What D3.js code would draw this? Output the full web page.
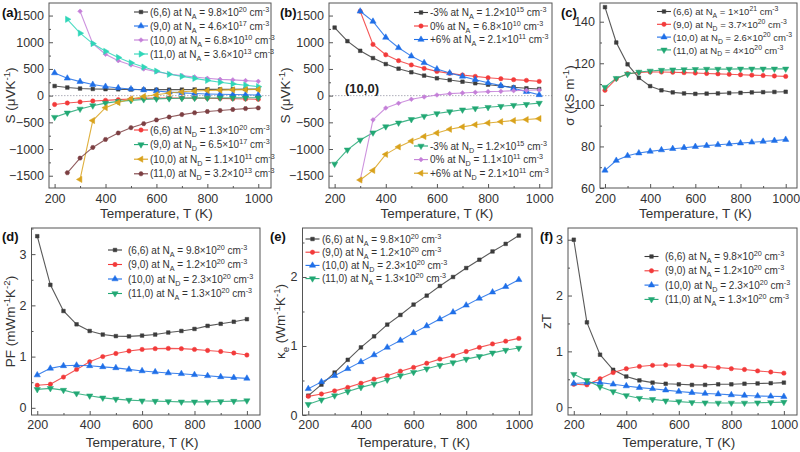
<!DOCTYPE html>
<html>
<head>
<meta charset="utf-8">
<script src="https://cdn.jsdelivr.net/npm/d3@7"></script>
<style>
  body { margin: 0; background: #fff; }
  svg { font-family: "Liberation Sans", Arial, sans-serif; font-weight: normal; }
</style>
</head>
<body>
<svg id="chart" width="800" height="452"></svg>
<script>
//  Data  //
var temps = [200,250,300,350,400,450,500,550,600,650,700,750,800,850,900,950,1000];
var xTicks = [200,400,600,800,1000];
var xMinor = [300,500,700,900];

// (a) Seebeck, best p and n doping per tube
var aS66p  = [180,152,133,125,121,118,115,113,112,112,113,115,117,118,120,121,122];
var aS90p  = [425,325,262,207,170,144,124,106,88,66,52,40,32,26,20,16,12];
var aS100p = [null,null,1580,975,775,655,575,500,450,405,375,350,325,305,295,282,268];
var aS110p = [null,1430,1170,975,830,715,615,535,460,400,360,323,286,250,220,195,168];
var aS66n  = [-165,-138,-118,-100,-88,-75,-62,-52,-45,-43,-43,-45,-48,-52,-58,-63,-70];
var aS90n  = [-404,-323,-250,-188,-140,-108,-88,-72,-60,-54,-50,-47,-45,-43,-42,-41,-40];
var aS100n = [null,null,-1570,-466,-225,-130,-62,-15,18,48,72,86,97,104,108,112,115];
var aS110n = [null,-1445,-1170,-970,-820,-700,-600,-525,-455,-400,-355,-322,-297,-278,-260,-243,-230];
var aLabelsP = ["(6,6) at N_{A} = 9.8×10^{20} cm^{-3}", "(9,0) at N_{A} = 4.6×10^{17} cm^{-3}",
                "(10,0) at N_{A} = 6.8×10^{10} cm^{-3}", "(11,0) at N_{A} = 3.6×10^{13} cm^{-3}"];
var aLabelsN = ["(6,6) at N_{D} = 1.3×10^{20} cm^{-3}", "(9,0) at N_{D} = 6.5×10^{17} cm^{-3}",
                "(10,0) at N_{D} = 1.1×10^{11} cm^{-3}", "(11,0) at N_{D} = 3.2×10^{13} cm^{-3}"];

// (b) (10,0) under strain
var bSm3p = [1275,1020,840,703,591,505,438,375,325,292,261,232,205,180,157,138,124];
var bS0p  = [null,null,1580,960,765,655,575,510,454,417,386,361,336,317,299,286,267];
var bSp6p = [null,null,1580,1390,1090,896,740,615,498,423,361,299,240,187,137,75,15];
var bSm3n = [-1280,-1015,-830,-695,-580,-510,-445,-385,-335,-300,-265,-240,-218,-199,-180,-162,-140];
var bS0n  = [null,null,-1580,-454,-232,-143,-68,-25,12,37,50,62,75,81,93,100,106];
var bSp6n = [null,null,-1580,-1400,-1100,-960,-850,-765,-700,-630,-585,-545,-512,-488,-467,-448,-430];
var bLabelsP = ["-3% at N_{A} = 1.2×10^{15} cm^{-3}", "0% at N_{A} = 6.8×10^{10} cm^{-3}", "+6% at N_{A} = 2.1×10^{11} cm^{-3}"];
var bLabelsN = ["-3% at N_{D} = 1.2×10^{15} cm^{-3}", "0% at N_{D} = 1.1×10^{11} cm^{-3}", "+6% at N_{D} = 2.1×10^{11} cm^{-3}"];

// (c) conductivity
var cSig66  = [147,130,119.5,113,109,107,106,105.5,105.3,105.4,105.5,105.7,105.8,106,106.1,106.2,106.3];
var cSig90  = [107,112.5,115,115.6,115.8,115.8,115.7,115.5,115.3,115.1,114.9,114.7,114.5,114.3,114.1,113.9,113.7];
var cSig100 = [68.5,73.2,75.5,76.8,77.6,78.3,78.9,79.4,79.9,80.4,80.8,81.2,81.6,82,82.4,82.8,83.3];
var cSig110 = [108.5,112.8,114.8,115.8,116.3,116.7,116.9,117,117.1,117.2,117.2,117.2,117.3,117.3,117.3,117.3,117.3];
var cLabels = ["(6,6) at N_{A} = 1×10^{21} cm^{-3}", "(9,0) at N_{D} = 3.7×10^{20} cm^{-3}",
               "(10,0) at N_{D} = 2.6×10^{20} cm^{-3}", "(11,0) at N_{D} = 4×10^{20} cm^{-3}"];

// (d) power factor
var dPF66  = [3.35,2.4,1.89,1.63,1.5,1.43,1.4,1.395,1.41,1.43,1.47,1.5,1.54,1.6,1.64,1.68,1.73];
var dPF90  = [0.44,0.46,0.6,0.75,0.9,1.0,1.06,1.11,1.14,1.155,1.16,1.155,1.14,1.12,1.1,1.07,1.03];
var dPF100 = [0.64,0.77,0.82,0.83,0.82,0.8,0.78,0.75,0.72,0.7,0.68,0.665,0.645,0.625,0.605,0.59,0.575];
var dPF110 = [0.36,0.38,0.345,0.28,0.235,0.195,0.17,0.15,0.137,0.13,0.124,0.117,0.117,0.117,0.124,0.13,0.14];

// (e) electronic thermal conductivity
var eK66  = [0.28,0.44,0.615,0.8,0.98,1.14,1.31,1.45,1.6,1.73,1.87,2.0,2.13,2.25,2.37,2.48,2.6];
var eK90  = [0.27,0.305,0.35,0.4,0.46,0.52,0.57,0.635,0.69,0.75,0.81,0.86,0.92,0.98,1.03,1.07,1.11];
var eK100 = [0.38,0.48,0.57,0.67,0.77,0.87,0.98,1.08,1.19,1.29,1.39,1.49,1.59,1.69,1.78,1.86,1.96];
var eK110 = [0.155,0.22,0.28,0.34,0.4,0.45,0.51,0.57,0.62,0.67,0.72,0.76,0.81,0.85,0.9,0.94,0.97];

// (f) zT
var fZT66  = [3.0,1.52,0.94,0.67,0.55,0.48,0.44,0.42,0.41,0.4,0.4,0.41,0.41,0.42,0.425,0.43,0.44];
var fZT90  = [0.41,0.4,0.51,0.62,0.69,0.73,0.75,0.755,0.755,0.74,0.73,0.71,0.69,0.675,0.65,0.63,0.61];
var fZT100 = [0.425,0.44,0.44,0.41,0.38,0.35,0.33,0.305,0.28,0.26,0.245,0.235,0.22,0.21,0.2,0.195,0.19];
var fZT110 = [0.59,0.48,0.365,0.28,0.21,0.16,0.14,0.115,0.1,0.085,0.08,0.075,0.075,0.075,0.08,0.085,0.09];

var defLabels = ["(6,6) at N_{A} = 9.8×10^{20} cm^{-3}", "(9,0) at N_{A} = 1.2×10^{20} cm^{-3}",
                 "(10,0) at N_{D} = 2.3×10^{20} cm^{-3}", "(11,0) at N_{A} = 1.3×10^{20} cm^{-3}"];

//  Styles  //
var col = { k: "#3c3c3c", r: "#f23a3a", b: "#1f6fe8", g: "#22a874", v: "#c47fd8", y: "#d9a21c", c: "#2fd6b8", w: "#7c3f42" };
var txtCol = "#333";

var symHex = {
    draw: function(ctx, size){
        var r = Math.sqrt(size / 2.598);
        for (var i = 0; i < 6; i++){
            var a = Math.PI / 3 * i;
            if (i == 0) ctx.moveTo(r * Math.cos(a), r * Math.sin(a));
            else ctx.lineTo(r * Math.cos(a), r * Math.sin(a));
        }
        ctx.closePath();
    }
};
var shp = {
    sq:  { type: d3.symbolSquare,   size: 13, rot: 0 },
    ci:  { type: d3.symbolCircle,   size: 15, rot: 0 },
    up:  { type: d3.symbolTriangle, size: 17, rot: 0 },
    dn:  { type: d3.symbolTriangle, size: 17, rot: 180 },
    di:  { type: d3.symbolSquare,   size: 11, rot: 45 },
    lt:  { type: d3.symbolTriangle, size: 17, rot: -90 },
    rt:  { type: d3.symbolTriangle, size: 17, rot: 90 },
    hx:  { type: symHex,            size: 14, rot: 0 }
};

var svg = d3.select("#chart");
var xDomain = [178, 1050];
var frameCol = "#555";

//  sub/superscript text: _{..} and ^{..}  //
function richText(sel, str, fs){
    var parts = str.split(/([_^]\{[^}]*\})/);
    var shift = 0;
    parts.forEach(function(s){
        if (!s) return;
        var target = 0, size = fs, txt = s;
        if (s[0] == "_" && s[1] == "{"){ target = fs * 0.3; size = fs * 0.72; txt = s.slice(2, -1); }
        else if (s[0] == "^" && s[1] == "{"){ target = -fs * 0.4; size = fs * 0.72; txt = s.slice(2, -1); }
        sel.append("tspan").attr("dy", target - shift).attr("font-size", size).text(txt);
        shift = target;
    });
}

function marker(g, s, color, cx, cy){
    g.append("path")
        .attr("d", d3.symbol().type(s.type).size(s.size)())
        .attr("transform", "translate(" + cx + "," + cy + ") rotate(" + s.rot + ")")
        .attr("fill", color).attr("stroke", color).attr("stroke-width", 0.5);
}

//  Panel  //
function drawPanel(p){
    var x = d3.scaleLinear().domain(xDomain).range([p.left, p.right]);
    var y = d3.scaleLinear().domain(p.yDomain).range([p.bottom, p.top]);
    var g = svg.append("g");

    if (p.zeroLine){
        g.append("line").attr("x1", p.left).attr("x2", p.right).attr("y1", y(0)).attr("y2", y(0))
            .attr("stroke", "#9a9aa8").attr("stroke-width", 0.8).attr("stroke-dasharray", "1.5,1.5");
    }

    // axes
    var axX = g.append("g").attr("transform", "translate(0," + p.bottom + ")")
        .call(d3.axisBottom(x).tickValues(xTicks).tickSizeInner(-4).tickSizeOuter(0).tickPadding(p.xPad).tickFormat(d3.format("d")));
    var axXm = g.append("g").attr("transform", "translate(0," + p.bottom + ")")
        .call(d3.axisBottom(x).tickValues(xMinor).tickSize(-2).tickFormat(""));
    var axY = g.append("g").attr("transform", "translate(" + p.left + ",0)")
        .call(d3.axisLeft(y).tickValues(p.yTicks).tickSizeInner(-4).tickSizeOuter(0).tickPadding(5).tickFormat(d3.format("d")));
    var axYm = g.append("g").attr("transform", "translate(" + p.left + ",0)")
        .call(d3.axisLeft(y).tickValues(p.yMinor).tickSize(-2).tickFormat(""));
    [axX, axXm, axY, axYm].forEach(function(a){
        a.select(".domain").remove();
        a.selectAll("line").attr("stroke", frameCol);
        a.selectAll("text").attr("font-size", 12.5).attr("fill", txtCol).attr("font-family", null);
    });

    g.append("rect").attr("x", p.left).attr("y", p.top)
        .attr("width", p.right - p.left).attr("height", p.bottom - p.top)
        .attr("fill", "none").attr("stroke", frameCol).attr("stroke-width", 1);

    // titles
    g.append("text").attr("x", (x(200) + x(1000)) / 2).attr("y", p.xTitleY)
        .attr("text-anchor", "middle").attr("font-size", 13.5).attr("fill", txtCol)
        .text("Temperature, T (K)");
    var yt = g.append("text").attr("text-anchor", "middle").attr("font-size", 13.5).attr("fill", txtCol)
        .attr("transform", "translate(" + p.yTitleX + "," + ((p.top + p.bottom) / 2) + ") rotate(-90)");
    richText(yt, p.yTitle, 13.5);
    g.append("text").attr("x", p.letterX).attr("y", p.letterY)
        .attr("font-size", 13).attr("font-weight", "bold").attr("fill", "#111").text(p.letter);

    // series
    var line = d3.line().defined(function(d){ return d != null; })
        .x(function(d, i){ return x(temps[i]); }).y(function(d){ return y(d); });
    p.series.forEach(function(s){
        g.append("path").datum(s.vals).attr("d", line)
            .attr("fill", "none").attr("stroke", s.color).attr("stroke-width", 1.1).attr("stroke-opacity", 0.85);
    });
    p.series.forEach(function(s){
        s.vals.forEach(function(v, i){
            if (v == null) return;
            marker(g, s.shape, s.color, x(temps[i]), y(v));
        });
    });

    // legends
    p.legends.forEach(function(lg){
        lg.items.forEach(function(it, k){
            var cy = lg.y0 + k * lg.dy;
            g.append("line").attr("x1", lg.x - 7).attr("x2", lg.x + 7).attr("y1", cy).attr("y2", cy)
                .attr("stroke", it.color).attr("stroke-width", 1.1);
            marker(g, it.shape, it.color, lg.x, cy);
            var t = g.append("text").attr("x", lg.tx).attr("y", cy + 3.6)
                .attr("font-size", lg.fs).attr("fill", txtCol);
            richText(t, it.label, lg.fs);
        });
    });
}

function S(vals, color, shape, label){ return { vals: vals, color: color, shape: shp[shape], label: label }; }

//  Panel (a)  //
var aP = [S(aS66p, col.k, "sq", aLabelsP[0]), S(aS90p, col.b, "up", aLabelsP[1]), S(aS100p, col.v, "di", aLabelsP[2]), S(aS110p, col.c, "rt", aLabelsP[3])];
var aN = [S(aS66n, col.r, "ci", aLabelsN[0]), S(aS90n, col.g, "dn", aLabelsN[1]), S(aS100n, col.y, "lt", aLabelsN[2]), S(aS110n, col.w, "hx", aLabelsN[3])];
drawPanel({
    left: 49, right: 271, top: 3, bottom: 188, yDomain: [-1730, 1735],
    yTicks: [-1500,-1000,-500,0,500,1000,1500], yMinor: [-1250,-750,-250,250,750,1250],
    xPad: 6, xTitleY: 218, yTitleX: 15, yTitle: "S (μVK^{-1})", letter: "(a)", letterX: 2, letterY: 17,
    zeroLine: true, series: aP.concat(aN),
    legends: [{ x: 141, tx: 150, y0: 12, dy: 14, fs: 10, items: aP }, { x: 141, tx: 150, y0: 130, dy: 14.6, fs: 10, items: aN }]
});

//  Panel (b)  //
var bP = [S(bSm3p, col.k, "sq", bLabelsP[0]), S(bS0p, col.r, "ci", bLabelsP[1]), S(bSp6p, col.b, "up", bLabelsP[2])];
var bN = [S(bSm3n, col.g, "dn", bLabelsN[0]), S(bS0n, col.v, "di", bLabelsN[1]), S(bSp6n, col.y, "lt", bLabelsN[2])];
drawPanel({
    left: 329, right: 552, top: 3, bottom: 188, yDomain: [-1730, 1735],
    yTicks: [-1500,-1000,-500,0,500,1000,1500], yMinor: [-1250,-750,-250,250,750,1250],
    xPad: 6, xTitleY: 218, yTitleX: 290, yTitle: "S (μVK^{-1})", letter: "(b)", letterX: 280, letterY: 17,
    zeroLine: true, series: bP.concat(bN),
    legends: [{ x: 421, tx: 430, y0: 12.5, dy: 13.5, fs: 10, items: bP }, { x: 421, tx: 430, y0: 146, dy: 13.6, fs: 10, items: bN }]
});
svg.append("text").attr("x", 345).attr("y", 93).attr("font-size", 13).attr("font-weight", "bold")
    .attr("fill", "#222").text("(10,0)");

//  Panel (c)  //
var cS = [S(cSig66, col.k, "sq", cLabels[0]), S(cSig90, col.r, "ci", cLabels[1]), S(cSig100, col.b, "up", cLabels[2]), S(cSig110, col.g, "dn", cLabels[3])];
drawPanel({
    left: 600, right: 797, top: 3, bottom: 188, yDomain: [60, 149],
    yTicks: [60,80,100,120,140], yMinor: [70,90,110,130],
    xPad: 6, xTitleY: 218, yTitleX: 574, yTitle: "σ (kS m^{-1})", letter: "(c)", letterX: 561, letterY: 17,
    zeroLine: false, series: cS,
    legends: [{ x: 664, tx: 673, y0: 11.5, dy: 12.8, fs: 9.5, items: cS }]
});

//  Panel (d)  //
var dS = [S(dPF66, col.k, "sq", defLabels[0]), S(dPF90, col.r, "ci", defLabels[1]), S(dPF100, col.b, "up", defLabels[2]), S(dPF110, col.g, "dn", defLabels[3])];
drawPanel({
    left: 31.5, right: 260, top: 228, bottom: 415, yDomain: [-0.14, 3.51],
    yTicks: [0,1,2,3], yMinor: [0.5,1.5,2.5,3.5],
    xPad: 5, xTitleY: 447, yTitleX: 15, yTitle: "PF (mWm^{-1}K^{-2})", letter: "(d)", letterX: 2, letterY: 241,
    zeroLine: false, series: dS,
    legends: [{ x: 115, tx: 128, y0: 250, dy: 14.5, fs: 10, items: dS }]
});

//  Panel (e)  //
var eS = [S(eK66, col.k, "sq", defLabels[0]), S(eK90, col.r, "ci", defLabels[1]), S(eK100, col.b, "up", defLabels[2]), S(eK110, col.g, "dn", defLabels[3])];
drawPanel({
    left: 302.5, right: 532, top: 228, bottom: 415, yDomain: [0, 2.71],
    yTicks: [0,1,2], yMinor: [0.5,1.5,2.5],
    xPad: 5, xTitleY: 447, yTitleX: 285, yTitle: "κ_{e} (Wm^{-1}K^{-1})", letter: "(e)", letterX: 270, letterY: 241,
    zeroLine: false, series: eS,
    legends: [{ x: 312.5, tx: 322, y0: 239, dy: 13.2, fs: 10, items: eS }]
});

//  Panel (f)  //
var fS = [S(fZT66, col.k, "sq", defLabels[0]), S(fZT90, col.r, "ci", defLabels[1]), S(fZT100, col.b, "up", defLabels[2]), S(fZT110, col.g, "dn", defLabels[3])];
drawPanel({
    left: 568, right: 797, top: 228, bottom: 415, yDomain: [-0.14, 3.21],
    yTicks: [0,1,2,3], yMinor: [0.5,1.5,2.5],
    xPad: 5, xTitleY: 447, yTitleX: 551, yTitle: "zT", letter: "(f)", letterX: 540, letterY: 241,
    zeroLine: false, series: fS,
    legends: [{ x: 651.5, tx: 665, y0: 256.5, dy: 14.3, fs: 10, items: fS }]
});
</script>
</body>
</html>
